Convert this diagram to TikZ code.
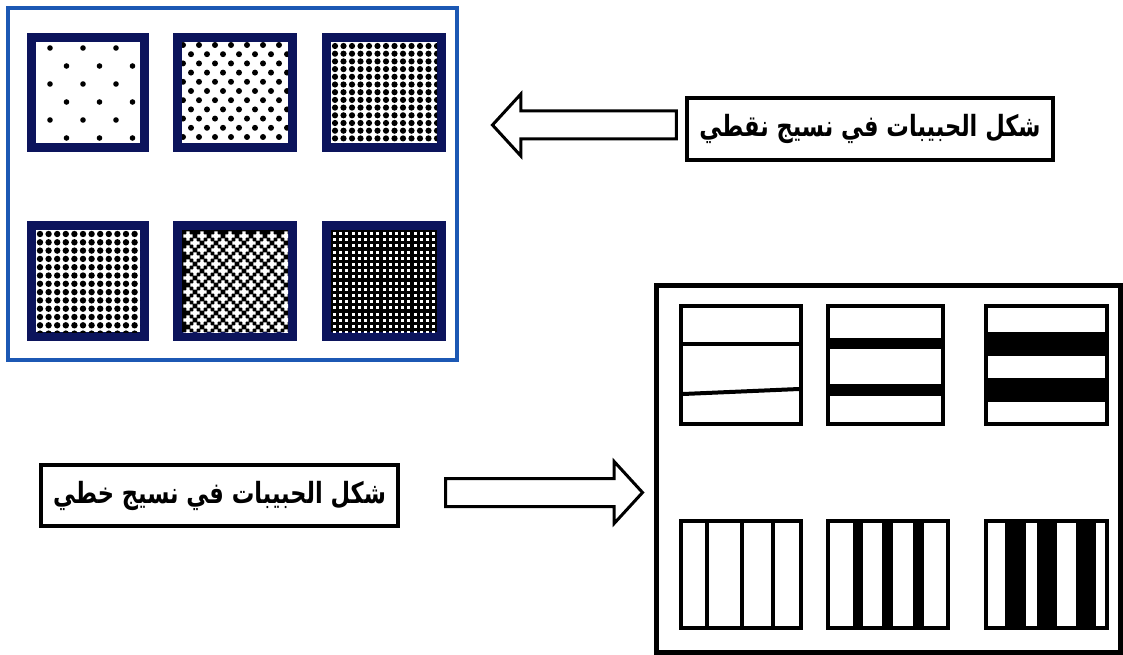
\documentclass[tikz,border=0pt]{standalone}
\usepackage{graphicx}
\usepackage{fontspec}
\newfontfamily\arabicfont[Script=Arabic]{DejaVu Sans}
\TeXXeTstate=1
\usetikzlibrary{positioning,shapes.arrows}

\definecolor{panelblue}{RGB}{28,88,180}
\definecolor{tilenavy}{RGB}{12,20,92}

\newcommand{\tallword}[1]{\scalebox{1}[1.3]{\beginR #1\endR}}

\tikzset{
  labelbox/.style={draw, line width=4pt, inner sep=0pt,
    font=\arabicfont\bfseries\fontsize{22.5}{26}\selectfont},
  blockarrow/.style={single arrow, draw, line width=3pt, inner xsep=0pt,
    inner ysep=12.5pt, single arrow head extend=17pt, single arrow tip angle=95},
  tile/.style={draw=tilenavy, line width=9pt},
  bartile/.style={draw, line width=4.5pt},
  grain/.style={fill=black},
}

\begin{document}
\begin{tikzpicture}[x=1pt,y=-1pt]
\useasboundingbox (0,0) rectangle (1123,655);

% the two panels
\node[draw=panelblue, line width=4pt, minimum width=449pt, minimum height=352pt] (dotpanel) at (232.5,184) {};
\node[draw, line width=5pt, minimum width=464pt, minimum height=367pt] (linepanel) at (888,468.5) {};

% dotted tiles, top row
\draw[tile] (31.5,37.5) rectangle (144.5,147.5);
\begin{scope}
\clip (36,42) rectangle (140,143);
\foreach \j in {0,...,5}
  \foreach \i in {0,1,2}
    \fill[grain] ({50+16.5*mod(\j,2)+33*\i}, {48+18*\j}) circle (2.8pt);
\end{scope}

\draw[tile] (177.5,37.5) rectangle (292.5,147.5);
\begin{scope}
\clip (182,42) rectangle (288,143);
\foreach \j in {0,...,11}
  \foreach \i in {0,...,7}
    \fill[grain] ({183+8*mod(\j,2)+16*\i}, {45+9.2*\j}) circle (3pt);
\end{scope}

\draw[tile] (326.5,37.5) rectangle (441.5,147.5);
\begin{scope}
\clip (331,42) rectangle (437,143);
\foreach \j in {0,...,13}
  \foreach \i in {0,...,12}
    \fill[grain] ({335+8.5*\i}, {46+7.7*\j}) circle (3.1pt);
\end{scope}

% dotted tiles, bottom row
\draw[tile] (31.5,225.5) rectangle (144.5,336.5);
\begin{scope}
\clip (36,230) rectangle (140,332);
\foreach \j in {0,...,12}
  \foreach \i in {0,...,12}
    \fill[grain] ({40+8.6*\i}, {234+8.3*\j}) circle (3.2pt);
\end{scope}

\draw[tile] (177.5,225.5) rectangle (292.5,336.5);
\begin{scope}
\clip (182,230) rectangle (288,332);
\fill[grain] (182,230) rectangle (288,332);
\foreach \j in {0,...,15}
  \foreach \i in {0,...,8}
    \fill[white] ({188+14*\i+7*mod(\j,2)}, {236+7*\j}) circle (2.6pt)
      +(-4.6,-1.6) rectangle +(4.6,1.6) +(-1.6,-4.6) rectangle +(1.6,4.6);
\end{scope}

\draw[tile] (326.5,225.5) rectangle (441.5,336.5);
\begin{scope}
\clip (331,230) rectangle (437,332);
\fill[grain] (331,230) rectangle (437,332);
\foreach \j in {0,...,16}
  \foreach \i in {0,...,17}
    \fill[white] ({333+6.2*\i}, {232+6.2*\j}) rectangle ++(3,3);
\end{scope}

% striped tiles, top row
\draw[bartile] (681,306) rectangle (801,424);
\draw[line width=4pt] (683,344) -- (799,344);
\draw[line width=4pt] (683,394) -- (799,389);

\draw[bartile] (828,306) rectangle (943,424);
\foreach \a/\b in {338/349,384/396}
  \fill[grain] (830,\a) rectangle (941,\b);

\draw[bartile] (986,306) rectangle (1107,424);
\foreach \a/\b in {332/356,378/402}
  \fill[grain] (988,\a) rectangle (1105,\b);

% striped tiles, bottom row
\draw[bartile] (681,521) rectangle (801,628);
\foreach \x in {707,742,773}
  \draw[line width=4pt] (\x,523) -- (\x,626);

\draw[bartile] (828,521) rectangle (948,628);
\foreach \a/\b in {853/863,882/893,913/924}
  \fill[grain] (\a,523) rectangle (\b,626);

\draw[bartile] (986,521) rectangle (1107,628);
\foreach \a/\b in {1005/1026,1037/1057,1076/1096}
  \fill[grain] (\a,523) rectangle (\b,626);

% labels and arrows
\node[labelbox, minimum width=366pt, minimum height=62pt] (dotlabel) at (870,129)
  {\tallword{شكل الحبيبات في نسيج نقطي}};
\node[labelbox, minimum width=357pt, minimum height=61pt] (linelabel) at (219.5,495.5)
  {\tallword{شكل الحبيبات في نسيج خطي}};

\node[blockarrow, shape border rotate=180, minimum height=184pt,
  left=7pt of dotlabel, yshift=4pt] (dotarrow) {};
\node[blockarrow, minimum height=197pt,
  right=44pt of linelabel, yshift=3pt] (linearrow) {};
\end{tikzpicture}
\end{document}
